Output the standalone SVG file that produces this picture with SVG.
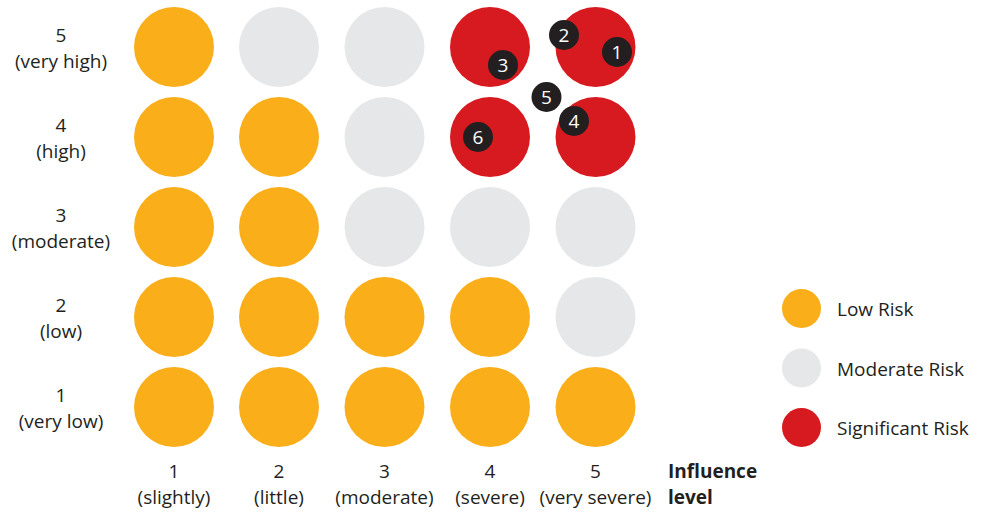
<svg xmlns="http://www.w3.org/2000/svg" width="983" height="512" viewBox="0 0 983 512">
<style>
.low{fill:#f9ae1a}
.mod{fill:#e6e7e8}
.sig{fill:#d71920}
text{font-family:"Open Sans","Liberation Sans",sans-serif;font-size:19px;fill:#231f20}
.c{text-anchor:middle}
.b{font-weight:bold}
.mk circle{fill:#231f20}
.mk text{fill:#ffffff;text-anchor:middle;font-size:19px}
</style>
<rect width="983" height="512" fill="#ffffff"/>
<g id="row-labels">
<text class="c" x="61" y="42">5</text><text class="c" x="61" y="68">(very high)</text>
<text class="c" x="61" y="132">4</text><text class="c" x="61" y="158">(high)</text>
<text class="c" x="61" y="222">3</text><text class="c" x="61" y="248">(moderate)</text>
<text class="c" x="61" y="312">2</text><text class="c" x="61" y="338">(low)</text>
<text class="c" x="61" y="402">1</text><text class="c" x="61" y="428">(very low)</text>
</g>
<g id="col-labels">
<text class="c" x="174" y="478">1</text><text class="c" x="174" y="504">(slightly)</text>
<text class="c" x="279" y="478">2</text><text class="c" x="279" y="504">(little)</text>
<text class="c" x="384.5" y="478">3</text><text class="c" x="384.5" y="504">(moderate)</text>
<text class="c" x="490" y="478">4</text><text class="c" x="490" y="504">(severe)</text>
<text class="c" x="595.5" y="478">5</text><text class="c" x="595.5" y="504">(very severe)</text>
<text class="b" x="668" y="478">Influence</text><text class="b" x="668" y="504">level</text>
</g>
<g id="grid">
<g id="r5c1"><circle class="low" cx="174" cy="47" r="40"/></g>
<g id="r5c2"><circle class="mod" cx="279" cy="47" r="40"/></g>
<g id="r5c3"><circle class="mod" cx="384.5" cy="47" r="40"/></g>
<g id="r5c4"><circle class="sig" cx="490" cy="47" r="40"/></g>
<g id="r5c5"><circle class="sig" cx="595.5" cy="47" r="40"/></g>
<g id="r4c1"><circle class="low" cx="174" cy="137" r="40"/></g>
<g id="r4c2"><circle class="low" cx="279" cy="137" r="40"/></g>
<g id="r4c3"><circle class="mod" cx="384.5" cy="137" r="40"/></g>
<g id="r4c4"><circle class="sig" cx="490" cy="137" r="40"/></g>
<g id="r4c5"><circle class="sig" cx="595.5" cy="137" r="40"/></g>
<g id="r3c1"><circle class="low" cx="174" cy="227" r="40"/></g>
<g id="r3c2"><circle class="low" cx="279" cy="227" r="40"/></g>
<g id="r3c3"><circle class="mod" cx="384.5" cy="227" r="40"/></g>
<g id="r3c4"><circle class="mod" cx="490" cy="227" r="40"/></g>
<g id="r3c5"><circle class="mod" cx="595.5" cy="227" r="40"/></g>
<g id="r2c1"><circle class="low" cx="174" cy="317" r="40"/></g>
<g id="r2c2"><circle class="low" cx="279" cy="317" r="40"/></g>
<g id="r2c3"><circle class="low" cx="384.5" cy="317" r="40"/></g>
<g id="r2c4"><circle class="low" cx="490" cy="317" r="40"/></g>
<g id="r2c5"><circle class="mod" cx="595.5" cy="317" r="40"/></g>
<g id="r1c1"><circle class="low" cx="174" cy="407" r="40"/></g>
<g id="r1c2"><circle class="low" cx="279" cy="407" r="40"/></g>
<g id="r1c3"><circle class="low" cx="384.5" cy="407" r="40"/></g>
<g id="r1c4"><circle class="low" cx="490" cy="407" r="40"/></g>
<g id="r1c5"><circle class="low" cx="595.5" cy="407" r="40"/></g>
</g>
<g id="markers">
<g id="m1" class="mk"><circle cx="617" cy="52" r="15"/><text x="617" y="59">1</text></g>
<g id="m2" class="mk"><circle cx="564" cy="35" r="15"/><text x="564" y="42">2</text></g>
<g id="m3" class="mk"><circle cx="503" cy="65" r="15"/><text x="503" y="72">3</text></g>
<g id="m4" class="mk"><circle cx="574" cy="121" r="15"/><text x="574" y="128">4</text></g>
<g id="m5" class="mk"><circle cx="546.5" cy="97" r="15"/><text x="546.5" y="104">5</text></g>
<g id="m6" class="mk"><circle cx="478" cy="137" r="15"/><text x="478" y="144">6</text></g>
</g>
<g id="legend">
<g id="leg-low"><circle class="low" cx="801.5" cy="308.5" r="19.5"/><text x="837" y="316">Low Risk</text></g>
<g id="leg-mod"><circle class="mod" cx="801.5" cy="368" r="19.5"/><text x="837" y="375.5">Moderate Risk</text></g>
<g id="leg-sig"><circle class="sig" cx="801.5" cy="427.5" r="19.5"/><text x="837" y="435">Significant Risk</text></g>
</g>
</svg>
